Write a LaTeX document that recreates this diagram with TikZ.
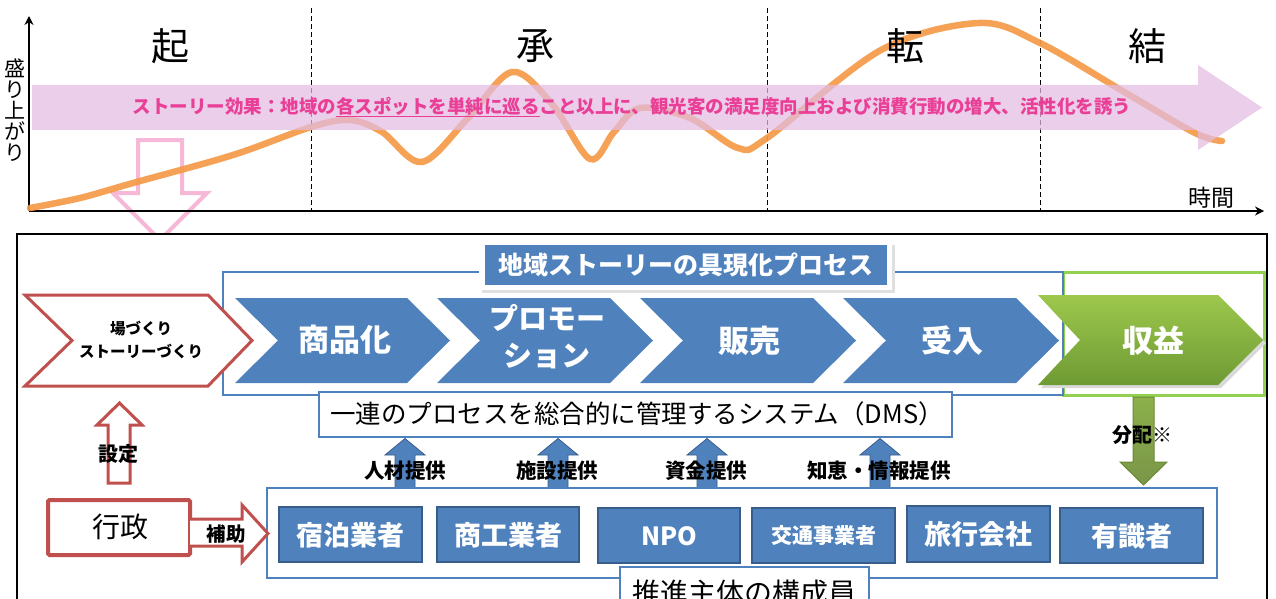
\documentclass[tikz,border=0pt]{standalone}
\usepackage{fontspec}
\newfontfamily\jp{Noto Sans CJK JP}
\usetikzlibrary{arrows.meta}
\definecolor{pblue}{HTML}{4F81BD}
\definecolor{pbluedark}{HTML}{385D8A}
\definecolor{pred}{HTML}{C0504D}
\definecolor{pgreen}{HTML}{92D050}
\definecolor{pgreenA}{HTML}{9DC84C}
\definecolor{pgreenB}{HTML}{6E9A34}
\definecolor{olive}{HTML}{8CB04A}
\definecolor{olivedark}{HTML}{6B8A35}
\definecolor{curveorange}{HTML}{F59A48}
\definecolor{bandpink}{HTML}{E2BCE2}
\definecolor{bandtext}{HTML}{EA3F97}
\definecolor{pinkarrow}{HTML}{F6B8D6}
\newcommand\fsz[1]{\fontsize{#1}{#1}\selectfont}
\begin{document}
\begin{tikzpicture}[x=1pt,y=-1pt,
  axis/.style={line width=2.6pt,-{Stealth[length=9pt,width=9pt]}},
  divider/.style={dashed,line width=1pt,dash pattern=on 5pt off 3pt},
  curve/.style={curveorange,line width=6.5pt,line cap=round,opacity=0.92},
  phase/.style={font=\jp\fsz{38}},
  bluechev/.style={fill=pblue},
  chevtext/.style={font=\jp\bfseries\fsz{31},text=white,align=center},
  member/.style={fill=pblue,draw=pbluedark,line width=2.6pt},
  membertext/.style={font=\jp\bfseries\fsz{27},text=white},
  frameblue/.style={draw=pblue,line width=2.8pt},
  lbl/.style={font=\jp\bfseries\fsz{20},text=black},
  redline/.style={draw=pred,line width=3pt,fill=white,line join=miter},
  uparrow/.style={fill=pblue,draw=pbluedark,line width=0.8pt}
]
\useasboundingbox (0,0) rectangle (1276,599);
\fill[white] (0,0) rectangle (1276,599);

% ---------- top panel ----------
% pink down arrow (behind the curve)
\path[draw=pinkarrow,line width=4pt,fill=white,line join=miter]
  (138,140) -- (182,140) -- (182,193) -- (207,193) -- (160,240) -- (113,193) -- (138,193) -- cycle;

% dashed dividers
\foreach \xx/\nm in {311/da,767/db,1040/dc}{
  \coordinate (\nm t) at (\xx,8);
  \coordinate (\nm b) at (\xx,211);
  \draw[divider] (\nm t) -- (\nm b);
}

% axes
\coordinate (orig) at (29,211);
\coordinate (ytop) at (29,16);
\coordinate (xend) at (1264,211);
\draw[axis] (orig) -- (ytop);
\draw[axis] (orig) -- (xend);

% curve
\draw[curve] plot[smooth,tension=0.55] coordinates {(30,208) (80,198) (133,183) (233,155) (311,127) (350,120) (382,132) (422,162) (468,118) (512,72) (552,104) (590,159) (614,132) (640,108) (690,118) (738,148) (767,138) (881,50) (979,23) (1040,43) (1126,93) (1195,133) (1222,141)};

% band arrow
\fill[bandpink,opacity=0.72] (32,85) -- (1198,85) -- (1198,65) -- (1262,107.5) -- (1198,150) -- (1198,130) -- (32,130) -- cycle;
\node[font=\jp\bfseries\fsz{18.5},text=bandtext,inner sep=0pt] (bandtxt) at (632,107)
  {ストーリー効果：地域の\underline{各スポットを単純に巡る}こと以上に、観光客の満足度向上および消費行動の増大、活性化を誘う};

% phase labels
\node[phase] (ki) at (170,46) {起};
\node[phase] (sho) at (535,46) {承};
\node[phase] (ten) at (905,46) {転};
\node[phase] (ketsu) at (1147,46) {結};

% axis labels
\node[font=\jp\fsz{21},align=center,inner sep=0pt] (ylab) at (15,110)
  {\baselineskip=21.5pt 盛\\り\\上\\が\\り};
\node[font=\jp\fsz{23},inner sep=0pt] (xlab) at (1211,198) {時間};

% ---------- bottom panel ----------
\path[draw=black,line width=2pt,fill=white] (17,234) rectangle (1267,615);

% frames
\path[draw=pgreen,line width=3pt] (1063,272) rectangle (1264,395);
\path[frameblue] (223,272) rectangle (1063,395);

% title box
\fill[black!12] (482,245) rectangle (895,293);
\fill[white] (479,242) rectangle (892,290);
\fill[pblue] (485,245) rectangle (887,285);
\node[font=\jp\bfseries\fsz{25},text=white] (title) at (686,265) {地域ストーリーの具現化プロセス};

% chevrons
\fill[bluechev] (235,298) -- (407,298) -- (450,340.5) -- (407,383) -- (235,383) -- (278,340.5) -- cycle;
\fill[bluechev] (437,298) -- (610,298) -- (653,340.5) -- (610,383) -- (437,383) -- (480,340.5) -- cycle;
\fill[bluechev] (640,298) -- (813,298) -- (856,340.5) -- (813,383) -- (640,383) -- (683,340.5) -- cycle;
\fill[bluechev] (843,298) -- (1016,298) -- (1059,340.5) -- (1016,383) -- (843,383) -- (886,340.5) -- cycle;
\fill[black!15] (1041,298) -- (1221,298) -- (1266,343) -- (1221,388) -- (1041,388) -- (1083,343) -- cycle;
\shade[top color=pgreenA,bottom color=pgreenB] (1038,295) -- (1218,295) -- (1263,340) -- (1218,385) -- (1038,385) -- (1080,340) -- cycle;

\node[chevtext] (c1) at (345,340) {商品化};
\node[chevtext,font=\jp\bfseries\fsz{29}] (c2) at (547,337) {プロモー\\[8pt]ション};
\node[chevtext] (c3) at (749,341) {販売};
\node[chevtext] (c4) at (952,341) {受入};
\node[chevtext] (c5) at (1153,341) {収益};

% red chevron
\path[redline] (25,295) -- (208,295) -- (252,340.5) -- (208,386) -- (25,386) -- (72,340.5) -- cycle;
\node[font=\jp\bfseries\fsz{15.5},align=center] (basho) at (141,340)
  {場づくり\\[8pt]ストーリーづくり};

% DMS box
\path[frameblue,fill=white] (319,392) rectangle (952,437);
\node[font=\jp\fsz{25.5}] (dms) at (637,414) {一連のプロセスを総合的に管理するシステム（DMS）};

% members frame
\path[frameblue,fill=white] (267,488) rectangle (1217,578);

% up arrows (members -> DMS)
\foreach \cx in {405,558,707,880}{
  \path[uparrow] (\cx-10,488) -- (\cx-10,455) -- (\cx-20,455) -- (\cx,438.5) -- (\cx+20,455) -- (\cx+10,455) -- (\cx+10,488) -- cycle;
}
\path[frameblue] (267,488) -- (1217,488);
\node[lbl,font=\jp\bfseries\fsz{20.5}] (l1) at (405,471) {人材提供};
\node[lbl,font=\jp\bfseries\fsz{20.5}] (l2) at (557,471) {施設提供};
\node[lbl,font=\jp\bfseries\fsz{20.5}] (l3) at (706,471) {資金提供};
\node[lbl,font=\jp\bfseries\fsz{20.5}] (l4) at (879,471) {知恵・情報提供};

% member boxes
\path[member] (279,507) rectangle (422,562);
\path[member] (437,507) rectangle (579,562);
\path[member] (598,508) rectangle (740,563);
\path[member] (752,508) rectangle (895,563);
\path[member] (907,506) rectangle (1050,562);
\path[member] (1060,508) rectangle (1203,563);
\node[membertext] (m1) at (350.5,535) {宿泊業者};
\node[membertext] (m2) at (508,535) {商工業者};
\node[membertext,font=\jp\bfseries\fsz{25}] (m3) at (669,536) {NPO};
\node[membertext,font=\jp\bfseries\fsz{21}] (m4) at (823.5,536) {交通事業者};
\node[membertext] (m5) at (978.5,534) {旅行会社};
\node[membertext] (m6) at (1131.5,536) {有識者};

% members caption
\path[frameblue,fill=white] (620,567) rectangle (869,625);
\node[font=\jp\fsz{28}] (cap) at (744,593) {推進主体の構成員};

% 行政 and arrows
\path[redline,line width=4pt,rounded corners=1.5pt] (48,500) rectangle (190,555);
\node[font=\jp\fsz{28}] (gyosei) at (120,527) {行政};
\path[redline] (190,519) -- (242,519) -- (242,505) -- (268,533.5) -- (242,562) -- (242,546) -- (190,546);
\node[lbl,font=\jp\bfseries\fsz{19.5}] (hojo) at (226,534) {補助};
\path[redline] (108,483) -- (108,425) -- (97,425) -- (119.5,403) -- (142,425) -- (130,425) -- (130,483) -- cycle;
\node[lbl] (settei) at (118,454) {設定};

% green down arrow
\shade[top color=olive,bottom color=olivedark!90,draw=olivedark,line width=1pt]
  (1133,397) -- (1154,397) -- (1154,462) -- (1167,462) -- (1143.5,485) -- (1120,462) -- (1133,462) -- cycle;
\node[lbl] (bunpai) at (1142,435) {分配※};
\end{tikzpicture}
\end{document}
